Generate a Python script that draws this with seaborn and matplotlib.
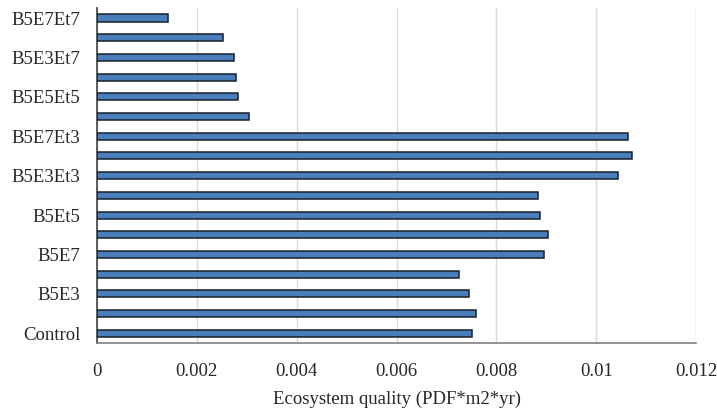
import matplotlib
matplotlib.use("Agg")
import matplotlib.pyplot as plt
import seaborn as sns
import pandas as pd
from matplotlib.ticker import FuncFormatter

# treatments, listed top to bottom as in the chart
treatments = ["B5E7Et7", "B5E5Et7", "B5E3Et7", "B5E7Et5", "B5E5Et5", "B5E3Et5",
              "B5E7Et3", "B5E5Et3", "B5E3Et3", "B5Et7", "B5Et5", "B5Et3",
              "B5E7", "B5E5", "B5E3", "B5", "Control"]
eq_values = [0.00142, 0.00252, 0.00274, 0.00278, 0.00282, 0.00305,
             0.01064, 0.01072, 0.01044, 0.00884, 0.00888, 0.00904,
             0.00896, 0.00725, 0.00746, 0.00760, 0.00751]
# only every other treatment gets a label (as in the original)
shown_labels = [t if i % 2 == 0 else "" for i, t in enumerate(treatments)]
x_ticks = [0, 0.002, 0.004, 0.006, 0.008, 0.01, 0.012]

df = pd.DataFrame({"treatment": treatments, "eq": eq_values})

sns.set_style("white")
plt.rcParams['font.family'] = ['Liberation Serif', 'DejaVu Serif']

fig = plt.figure(figsize=(7.17, 4.08), dpi=100)
ax = fig.add_axes([0.135, 0.159, 0.836, 0.821])

sns.barplot(data=df, y="treatment", x="eq", orient="h", color="#4a7ebb",
            saturation=1, width=0.36, edgecolor="#17202c", linewidth=1.1,
            ax=ax, zorder=3)

ax.set_xlim(0, 0.012)
ax.set_ylim(len(treatments) - 0.5, -0.5)
ax.set_xticks(x_ticks)
ax.xaxis.set_major_formatter(FuncFormatter(lambda v, p: "%g" % round(v, 4)))
ax.set_yticks(range(len(treatments)))
ax.set_yticklabels(shown_labels)
ax.tick_params(axis="both", length=0, labelsize=13.5, colors="#262626")
ax.tick_params(axis="y", pad=12)
ax.tick_params(axis="x", pad=14)

ax.grid(axis="x", color="#d9d9d9", linewidth=1.0, zorder=0)
ax.grid(axis="y", visible=False)
for s in ["top", "right"]:
    ax.spines[s].set_visible(False)
ax.spines["left"].set_color("#404040")
ax.spines["bottom"].set_color("#808080")
ax.spines["left"].set_linewidth(1.2)
ax.spines["bottom"].set_linewidth(1.2)

ax.set_ylabel("")
ax.set_xlabel("Ecosystem quality (PDF*m2*yr)", fontsize=13.5, color="#262626", labelpad=8)

fig.savefig("out.png", dpi=100)
